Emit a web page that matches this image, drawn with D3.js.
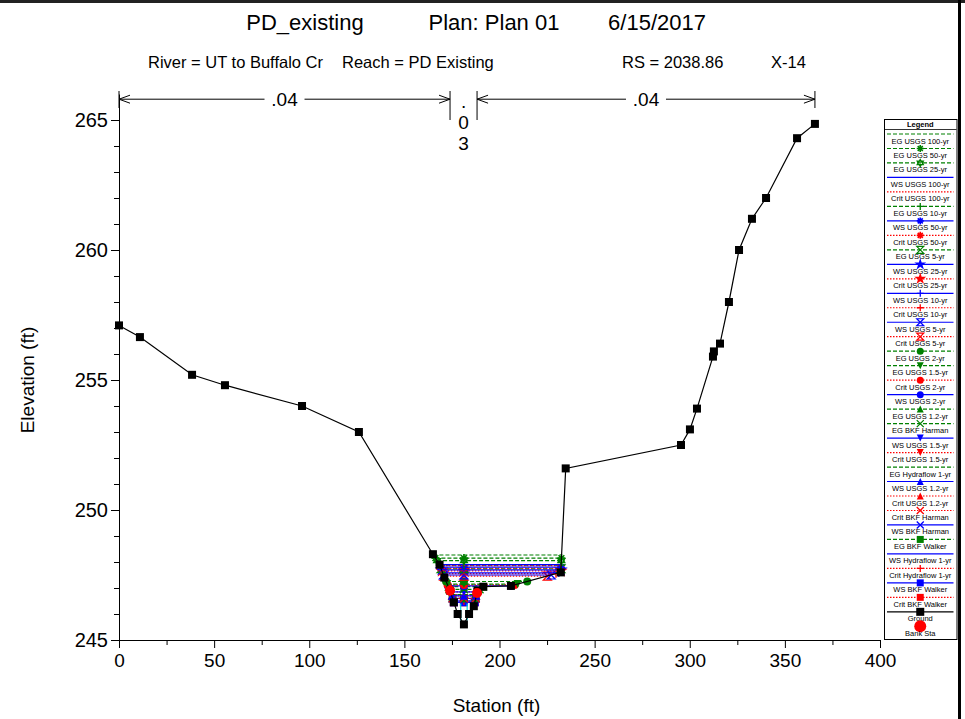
<!DOCTYPE html>
<html><head><meta charset="utf-8">
<script src="https://cdn.jsdelivr.net/npm/d3@7"></script>
<style>body{margin:0;background:#fff;} text{font-family:Arial,"Liberation Sans",sans-serif;fill:#000;}</style>
</head><body><svg id="c" width="965" height="719"></svg>
<script>
// ---------- data ----------
const groundStation = [0, 11.0, 38.4, 55.7, 96.2, 126.1, 165.0, 168.5, 171, 174, 176, 178, 181.3, 184, 186.5, 188.5, 191.5, 206, 232.2, 234.8, 295.4, 300.1, 303.8, 312.2, 312.7, 315.9, 320.6, 325.9, 332.7, 340.1, 356.4, 365.8];
const groundElev    = [257.1, 256.65, 255.2, 254.8, 254.0, 253.0, 248.3, 247.9, 247.4, 246.9, 246.45, 246.0, 245.6, 246.0, 246.3, 246.9, 247.05, 247.08, 247.6, 251.6, 252.5, 253.1, 253.9, 255.9, 256.1, 256.4, 258.0, 260.0, 261.2, 262.0, 264.3, 264.85];
const bankStations = [174.0, 188.2];
const nBreaks = [0, 174.0, 188.2, 365.8];
const nLabels = [".04", ".03", ".04"];

const profileNames = ["EG USGS 100-yr","EG USGS 50-yr","EG USGS 25-yr","WS USGS 100-yr","Crit USGS 100-yr","EG USGS 10-yr","WS USGS 50-yr","Crit USGS 50-yr","EG USGS 5-yr","WS USGS 25-yr","Crit USGS 25-yr","WS USGS 10-yr","Crit USGS 10-yr","WS USGS 5-yr","Crit USGS 5-yr","EG USGS 2-yr","EG USGS 1.5-yr","Crit USGS 2-yr","WS USGS 2-yr","EG USGS 1.2-yr","EG BKF Harman","WS USGS 1.5-yr","Crit USGS 1.5-yr","EG Hydraflow 1-yr","WS USGS 1.2-yr","Crit USGS 1.2-yr","Crit BKF Harman","WS BKF Harman","EG BKF Walker","WS Hydraflow 1-yr","Crit Hydraflow 1-yr","WS BKF Walker","Crit BKF Walker"];
const profileElev = [248.27,248.15,248.05,247.90,247.86,247.88,247.80,247.76,247.74,247.70,247.66,247.58,247.55,247.50,247.46,247.25,247.15,247.12,247.08,247.05,246.95,246.85,246.85,246.75,246.70,246.70,246.60,246.60,246.60,246.50,246.50,246.45,246.45];
const profileKind = ["EG","EG","EG","WS","Crit","EG","WS","Crit","EG","WS","Crit","WS","Crit","WS","Crit","EG","EG","Crit","WS","EG","EG","WS","Crit","EG","WS","Crit","Crit","WS","EG","WS","Crit","WS","Crit"];
const profileMarker = ["none","asterisk","star6","none","none","plus","asterisk","asterisk","hourglass","star","star","plus","plus","hourglass","hourglass","circle","triDown","circle","circle","triUp","x","triDown","triDown","none","triUp","triUp","x","x","square","none","plus","square","square"];

const xTickValues = [0,50,100,150,200,250,300,350,400];
const yTickValues = [245,250,255,260,265];

// ---------- setup ----------
const svg = d3.select("#c");
const x = d3.scaleLinear().domain([0,400]).range([119,880]);
const y = d3.scaleLinear().domain([245,266]).range([640,94]);
const kindColor = {EG:"#008000", WS:"#0000ff", Crit:"#ff0000"};
const kindDash = {EG:"4,2", WS:null, Crit:"1.5,1.5"};

// frame
svg.append("line").attr("x1",0).attr("x2",965).attr("y1",1.5).attr("y2",1.5).attr("stroke","#222").attr("stroke-width",3);
svg.append("line").attr("x1",959.5).attr("x2",959.5).attr("y1",0).attr("y2",719).attr("stroke","#000").attr("stroke-width",3);

// titles
const t1 = [["PD_existing",305],["Plan: Plan 01",494],["6/15/2017",657]];
t1.forEach(([s,cx]) => svg.append("text").attr("x",cx).attr("y",30).attr("text-anchor","middle").attr("font-size",22).text(s));
const t2 = [["River = UT to Buffalo Cr",148],["Reach = PD Existing",342],["RS = 2038.86",622],["X-14",771]];
t2.forEach(([s,x0]) => svg.append("text").attr("x",x0).attr("y",68).attr("font-size",16.5).text(s));

// axes
const yMinor = d3.range(245,266,1).filter(v => !yTickValues.includes(v));
const xMinor = d3.range(25,400,50);
const yAxis = svg.append("g").attr("transform","translate(119,0)")
  .call(d3.axisLeft(y).tickValues(yTickValues).tickSize(8).tickSizeOuter(0).tickPadding(3).tickFormat(d3.format("d")));
yAxis.selectAll("text").attr("font-size",20).attr("font-family","Arial, Liberation Sans, sans-serif");
svg.append("g").attr("transform","translate(119,0)")
  .call(d3.axisLeft(y).tickValues(yMinor).tickSize(5).tickSizeOuter(0).tickFormat(""))
  .select(".domain").remove();
const xAxis = svg.append("g").attr("transform","translate(0,640)")
  .call(d3.axisBottom(x).tickValues(xTickValues).tickSize(8).tickSizeOuter(0).tickPadding(6));
xAxis.selectAll("text").attr("font-size",19).attr("font-family","Arial, Liberation Sans, sans-serif");
svg.append("g").attr("transform","translate(0,640)")
  .call(d3.axisBottom(x).tickValues(xMinor).tickSize(5).tickSizeOuter(0).tickFormat(""))
  .select(".domain").remove();
svg.selectAll(".domain, .tick line").attr("stroke","#000");
svg.append("text").attr("x",x(200)-3).attr("y",712).attr("text-anchor","middle").attr("font-size",19).text("Station (ft)");
svg.append("text").attr("transform",`translate(34,${y(255)}) rotate(-90)`).attr("text-anchor","middle").attr("font-size",19).text("Elevation (ft)");

// Manning's n annotation
const nY = y(265.8);
nBreaks.forEach((s,i) => {
  const inner = i===1 || i===2;
  svg.append("line").attr("x1",x(s)).attr("x2",x(s)).attr("y1",91).attr("y2",inner?120:108).attr("stroke","#000");
});
function arrowHead(xt, dir){
  svg.append("path").attr("d",`M${xt+dir*11},${nY-4}L${xt},${nY}L${xt+dir*11},${nY+4}`).attr("fill","none").attr("stroke","#000");
}
[[0,1],[2,3]].forEach(([a,b]) => {
  const x0 = x(nBreaks[a]), x1 = x(nBreaks[b]);
  const lab = nLabels[a===0?0:2];
  const xm = (x0+x1)/2;
  svg.append("line").attr("x1",x0).attr("x2",xm-20).attr("y1",nY).attr("y2",nY).attr("stroke","#000");
  svg.append("line").attr("x1",xm+20).attr("x2",x1).attr("y1",nY).attr("y2",nY).attr("stroke","#000");
  arrowHead(x0,1); arrowHead(x1,-1);
  svg.append("text").attr("x",xm).attr("y",nY+7).attr("text-anchor","middle").attr("font-size",19).text(lab);
});
const xmid = (x(nBreaks[1])+x(nBreaks[2]))/2;
nLabels[1].split("").forEach((ch,i) => {
  svg.append("text").attr("x",xmid).attr("y",108+i*21).attr("text-anchor","middle").attr("font-size",19).text(ch);
});

// ---------- marker drawing ----------
function drawMarker(g, type, cx, cy, color, s){
  const h = s/2;
  if (type==="none") return;
  if (type==="square") g.append("rect").attr("x",cx-h).attr("y",cy-h).attr("width",s).attr("height",s).attr("fill",color);
  else if (type==="circle") g.append("circle").attr("cx",cx).attr("cy",cy).attr("r",h).attr("fill",color);
  else if (type==="triUp") g.append("path").attr("d",`M${cx},${cy-h}L${cx+h},${cy+h}L${cx-h},${cy+h}Z`).attr("fill",color);
  else if (type==="triDown") g.append("path").attr("d",`M${cx-h},${cy-h}L${cx+h},${cy-h}L${cx},${cy+h}Z`).attr("fill",color);
  else if (type==="plus") g.append("path").attr("d",`M${cx-h},${cy}H${cx+h}M${cx},${cy-h}V${cy+h}`).attr("stroke",color).attr("stroke-width",1.3).attr("fill","none");
  else if (type==="x") g.append("path").attr("d",`M${cx-h},${cy-h}L${cx+h},${cy+h}M${cx-h},${cy+h}L${cx+h},${cy-h}`).attr("stroke",color).attr("stroke-width",1.3).attr("fill","none");
  else if (type==="asterisk") g.append("path").attr("d",`M${cx-h},${cy}H${cx+h}M${cx},${cy-h}V${cy+h}M${cx-h*0.72},${cy-h*0.72}L${cx+h*0.72},${cy+h*0.72}M${cx-h*0.72},${cy+h*0.72}L${cx+h*0.72},${cy-h*0.72}`).attr("stroke",color).attr("stroke-width",1.6).attr("fill","none");
  else if (type==="hourglass") g.append("path").attr("d",`M${cx-h},${cy-h}H${cx+h}L${cx-h},${cy+h}H${cx+h}Z`).attr("stroke",color).attr("stroke-width",1.2).attr("fill","none");
  else if (type==="star") g.append("path").attr("d",d3.symbol(d3.symbolStar, s*s*0.9)()).attr("transform",`translate(${cx},${cy})`).attr("fill",color);
  else if (type==="star6") g.append("path").attr("d",`M${cx},${cy-h}L${cx+h*0.87},${cy+h*0.5}L${cx-h*0.87},${cy+h*0.5}ZM${cx},${cy+h}L${cx+h*0.87},${cy-h*0.5}L${cx-h*0.87},${cy-h*0.5}Z`).attr("stroke",color).attr("stroke-width",1.3).attr("fill","none");
}

// ---------- intersect profile with ground ----------
const gpts = groundStation.map((s,i)=>[s,groundElev[i]]);
const thal = d3.minIndex(groundElev);
function crossings(e){
  let L = gpts[0][0], R = gpts[gpts.length-1][0];
  for (let i=thal; i>0; i--){
    const [s1,e1]=gpts[i-1],[s2,e2]=gpts[i];
    if (e1>=e && e2<=e){ L = s1 + (e1-e)/(e1-e2)*(s2-s1); break; }
  }
  for (let i=thal; i<gpts.length-1; i++){
    const [s1,e1]=gpts[i],[s2,e2]=gpts[i+1];
    if (e1<=e && e2>=e){ R = s1 + (e-e1)/(e2-e1)*(s2-s1); break; }
  }
  return [L,R];
}

// ---------- profiles ----------
const pg = svg.append("g");
for (let i=profileNames.length-1;i>=0;i--){
  const e = profileElev[i], k = profileKind[i];
  const [L,R] = crossings(e);
  pg.append("line").attr("x1",x(L)).attr("x2",x(R)).attr("y1",y(e)).attr("y2",y(e))
    .attr("stroke",kindColor[k]).attr("stroke-width",1.2).attr("stroke-dasharray",kindDash[k]);
  [L, groundStation[thal], R].forEach(s => drawMarker(pg, profileMarker[i], x(s), y(e), kindColor[k], 8));
}

// cyan lines in channel bottom
[179.6,183.0].forEach(s => svg.append("line").attr("x1",x(s)).attr("x2",x(s)).attr("y1",y(246.4)).attr("y2",y(245.75)).attr("stroke","#00e0e0").attr("stroke-width",1.2));

// ground
svg.append("path").attr("d",d3.line().x(d=>x(d[0])).y(d=>y(d[1]))(gpts)).attr("fill","none").attr("stroke","#000").attr("stroke-width",1.2);
gpts.forEach(d => drawMarker(svg,"square",x(d[0]),y(d[1]),"#000",8));

// bank stations
function groundAt(s){ for(let i=0;i<gpts.length-1;i++){ if(gpts[i][0]<=s && gpts[i+1][0]>=s){ const t=(s-gpts[i][0])/(gpts[i+1][0]-gpts[i][0]); return gpts[i][1]+t*(gpts[i+1][1]-gpts[i][1]); } } return gpts[0][1]; }
bankStations.forEach(s => drawMarker(svg,"circle",x(s),y(groundAt(s)),"#ff0000",10));

// ---------- legend ----------
const lg = svg.append("g");
const LX0 = 884, LX1 = 956.5, LY0 = 119, LY1 = 639, step = 14.48, first = 134;
lg.append("rect").attr("x",LX0+0.5).attr("y",LY0+0.5).attr("width",LX1-LX0).attr("height",LY1-LY0).attr("fill","#fff").attr("stroke","#000");
lg.append("text").attr("x",(LX0+LX1)/2).attr("y",126.5).attr("text-anchor","middle").attr("font-size",7.5).attr("font-weight","bold").text("Legend");
lg.append("line").attr("x1",LX0).attr("x2",LX1).attr("y1",129.5).attr("y2",129.5).attr("stroke","#000").attr("stroke-width",0.8);
const legendNames = profileNames.concat(["Ground","Bank Sta"]);
legendNames.forEach((nm,i) => {
  const ly = first + i*step, cx = (LX0+LX1)/2;
  if (i < profileNames.length){
    const k = profileKind[i];
    lg.append("line").attr("x1",LX0+3).attr("x2",LX1-3).attr("y1",ly).attr("y2",ly).attr("stroke",kindColor[k]).attr("stroke-width",1.2).attr("stroke-dasharray",kindDash[k]);
    drawMarker(lg, profileMarker[i], cx, ly, kindColor[k], 7);
  } else if (nm==="Ground"){
    lg.append("line").attr("x1",LX0+3).attr("x2",LX1-3).attr("y1",ly).attr("y2",ly).attr("stroke","#000").attr("stroke-width",1.2);
    drawMarker(lg,"square",cx,ly,"#000",8);
  } else {
    drawMarker(lg,"circle",cx,ly,"#ff0000",12);
  }
  lg.append("text").attr("x",cx).attr("y",ly+9.5).attr("text-anchor","middle").attr("font-size",7.5).attr("fill","#111").text(nm);
});
</script></body></html>
